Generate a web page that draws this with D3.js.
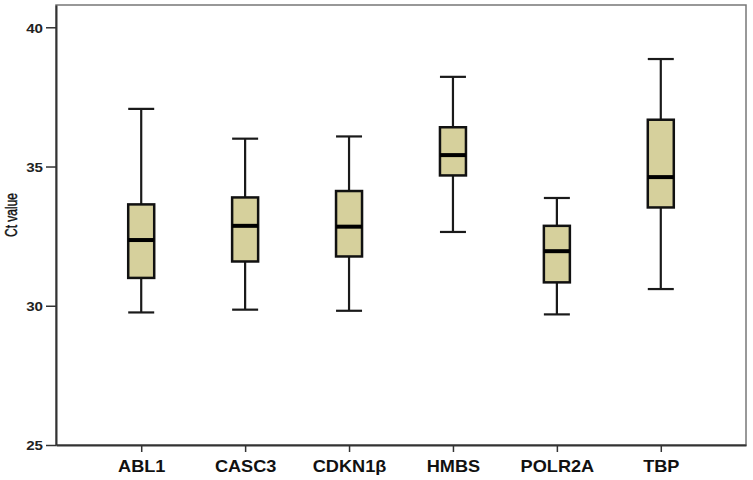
<!DOCTYPE html>
<html><head><meta charset="utf-8">
<script src="https://cdn.jsdelivr.net/npm/d3@7"></script>
<style>body{margin:0;background:#fff}svg{display:block}</style>
</head><body>
<svg id="c" width="753" height="480"></svg>
<script>
const categories = ["ABL1","CASC3","CDKN1β","HMBS","POLR2A","TBP"];
const mins    = [29.76, 29.86, 29.82, 32.65, 29.69, 30.60];
const q1s     = [31.00, 31.59, 31.77, 34.68, 30.84, 33.53];
const medians = [32.36, 32.87, 32.84, 35.41, 31.96, 34.62];
const q3s     = [33.64, 33.89, 34.12, 36.41, 32.87, 36.68];
const maxs    = [37.07, 36.00, 36.08, 38.22, 33.87, 38.86];
const yTicks  = [25, 30, 35, 40];

const svg = d3.select("#c");
const L = 56, R = 746, T = 5, B = 445;
const x = d3.scalePoint().domain(categories).range([L, R]).padding(0.82);
const y = d3.scaleLinear().domain([25, 40.8]).range([B, T]);
const data = categories.map((c,i)=>({c, min:mins[i], q1:q1s[i], med:medians[i], q3:q3s[i], max:maxs[i]}));

// frame
svg.append("rect").attr("x",L).attr("y",T).attr("width",R-L).attr("height",B-T)
  .attr("fill","none").attr("stroke","#777").attr("stroke-width",1.5);

const bw = 26;
const g = svg.append("g").selectAll("g").data(data).join("g");
g.append("line").attr("x1",d=>x(d.c)).attr("x2",d=>x(d.c)).attr("y1",d=>y(d.max)).attr("y2",d=>y(d.min))
  .attr("stroke","#1a1a1a").attr("stroke-width",2.2);
g.selectAll(".cap").data(d=>[[d.c,d.min],[d.c,d.max]]).join("line")
  .attr("x1",d=>x(d[0])-bw/2).attr("x2",d=>x(d[0])+bw/2).attr("y1",d=>y(d[1])).attr("y2",d=>y(d[1]))
  .attr("stroke","#1a1a1a").attr("stroke-width",2.2);
g.append("rect").attr("x",d=>x(d.c)-bw/2).attr("width",bw).attr("y",d=>y(d.q3)).attr("height",d=>y(d.q1)-y(d.q3))
  .attr("fill","#d6d09c").attr("stroke","#111").attr("stroke-width",2.5);
g.append("line").attr("x1",d=>x(d.c)-bw/2).attr("x2",d=>x(d.c)+bw/2).attr("y1",d=>y(d.med)).attr("y2",d=>y(d.med))
  .attr("stroke","#000").attr("stroke-width",4);

// y axis
const ya = svg.append("g").attr("transform",`translate(${L},0)`)
  .call(d3.axisLeft(y).tickValues(yTicks).tickSize(10).tickSizeOuter(0).tickFormat(d3.format("d")));
ya.select(".domain").attr("stroke","#333").attr("stroke-width",2);
ya.selectAll(".tick line").attr("stroke","#333").attr("stroke-width",1.5);
ya.selectAll(".tick text").attr("font-family","Liberation Sans, Arial, sans-serif").attr("font-weight","bold")
  .attr("font-size",13.5).attr("fill","#222").attr("x",0).attr("dy","0.36em")
  .attr("transform","translate(-13,0) scale(1.12,1)");

// x axis
const xa = svg.append("g").attr("transform",`translate(0,${B})`)
  .call(d3.axisBottom(x).tickSize(7).tickSizeOuter(0));
xa.select(".domain").attr("stroke","#333").attr("stroke-width",2);
xa.selectAll(".tick line").attr("stroke","#333").attr("stroke-width",1.5);
xa.selectAll(".tick text").attr("font-family","Liberation Sans, Arial, sans-serif").attr("font-weight","bold")
  .attr("font-size",16.5).attr("fill","#111").attr("y",0).attr("dy",0)
  .attr("transform","translate(0,27) scale(1.1,1)");

svg.append("text").attr("transform","translate(17,215) rotate(-90) scale(1,1.3)").attr("text-anchor","middle")
  .attr("font-family","Liberation Sans, Arial, sans-serif").attr("font-size",12).attr("fill","#111")
  .attr("stroke","#111").attr("stroke-width",0.35)
  .text("Ct value");
</script>
</body></html>
